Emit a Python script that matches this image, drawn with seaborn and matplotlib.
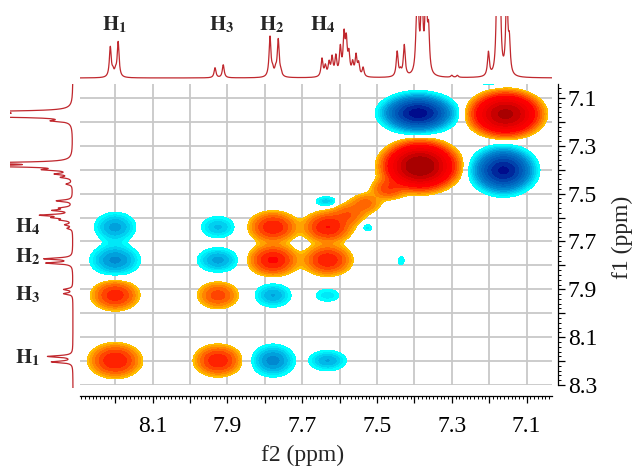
import numpy as np
import matplotlib
matplotlib.use("Agg")
import matplotlib.pyplot as plt
from matplotlib.ticker import MultipleLocator, FuncFormatter
import seaborn as sns

# 1D projection along f2 (top trace): line position (ppm) and height (px)
top_ppm = [8.213, 8.206, 8.199, 8.192,
           7.933, 7.911,
           7.786, 7.779, 7.771, 7.764, 7.757,
           7.647, 7.638, 7.628, 7.620, 7.610, 7.598, 7.588, 7.582, 7.575,
           7.565, 7.556, 7.549, 7.537,
           7.446, 7.437, 7.427,
           7.395, 7.391, 7.380, 7.369, 7.362,
           7.300, 7.285,
           7.202, 7.179, 7.171, 7.153, 7.146]
top_height = [30, 5, 5, 35,
              10, 13,
              40, 6, 6, 37, 4,
              18, 10, 13, 18, 19, 27, 38, 32, 20,
              12, 20, 12, 9,
              25, 5, 31,
              20, 90, 90, 90, 40,
              2, 2,
              24, 90, 90, 90, 30]

# 1D projection along f1 (left trace)
left_ppm = [7.158, 7.170, 7.178, 7.196,
            7.372, 7.385, 7.400, 7.418, 7.432,
            7.460, 7.530, 7.560, 7.570, 7.590, 7.600, 7.610, 7.630, 7.645,
            7.772, 7.790,
            7.900, 7.918,
            8.180, 8.203]
left_height = [90, 90, 80, 16,
               90, 90, 23, 15, 10,
               6, 16, 11, 18, 30, 16, 10, 7, 5,
               28, 26,
               9, 9,
               25, 21]

# 2D peaks: f2 (ppm), f1 (ppm), amplitude, width f2, width f1
pk_f2 = [8.200, 7.925, 7.778, 7.632,
         8.200, 7.925, 7.778, 7.632,
         8.200, 7.925, 7.778, 7.632,
         8.200, 7.925, 7.778, 7.632,
         7.575, 7.530, 7.470,
         7.636, 7.526, 7.435, 7.200,
         7.385, 7.156, 7.390, 7.162]
pk_f1 = [8.198, 8.198, 8.198, 8.198,
         7.925, 7.925, 7.925, 7.925,
         7.778, 7.778, 7.778, 7.778,
         7.640, 7.640, 7.640, 7.640,
         7.585, 7.540, 7.480,
         7.533, 7.642, 7.780, 7.030,
         7.385, 7.168, 7.164, 7.403]
pk_amp = [7.5, 7.0, -6.5, -4.0,
          6.5, 4.5, -4.0, -1.8,
          -6.0, -4.5, 8.0, 7.0,
          -4.5, -3.0, 7.0, 7.5,
          3.2, 3.0, 4.5,
          -2.6, -1.8, -1.3, -2.0,
          60, 45, -50, -45]
pk_sx = [0.037, 0.034, 0.031, 0.030,
         0.0345, 0.032, 0.029, 0.028,
         0.036, 0.032, 0.035, 0.035,
         0.032, 0.030, 0.035, 0.035,
         0.028, 0.026, 0.026,
         0.020, 0.011, 0.011, 0.020,
         0.042, 0.041, 0.041, 0.0355]
pk_sy = [0.038, 0.0355, 0.036, 0.026,
         0.0345, 0.033, 0.030, 0.023,
         0.036, 0.030, 0.035, 0.035,
         0.036, 0.030, 0.035, 0.035,
         0.028, 0.026, 0.026,
         0.015, 0.014, 0.023, 0.015,
         0.043, 0.040, 0.034, 0.041]

pos_colors = ["#ffc000", "#ffa200", "#ff8400", "#ff6600", "#ff4400", "#ff2200",
              "#ff0000", "#fa0000", "#f00000", "#e00000", "#c80000", "#a80000"]
neg_colors = ["#00ffff", "#00e8f8", "#00d0f0", "#00b8e8", "#00a0dc", "#0088d0",
              "#0078c8", "#0068c0", "#0058b8", "#0044ac", "#00289c", "#000c8c"]
trace_color = "#c0272d"

sns.set_style("white")
plt.rcParams["font.family"] = ["Liberation Serif", "DejaVu Serif"]
plt.rcParams["mathtext.fontset"] = "stix"

W, H = 636, 467
fig = plt.figure(figsize=(W / 100, H / 100), dpi=100)


def box(x0, y0, x1, y1):
    return [x0 / W, 1 - y1 / H, (x1 - x0) / W, (y1 - y0) / H]


# ---- 2D spectrum
ax = fig.add_axes(box(80, 84, 552, 385))
g = np.linspace(7.0, 8.35, 700)
X, Y = np.meshgrid(g, g)
Z = np.zeros_like(X)
for x0, y0, a, sx, sy in zip(pk_f2, pk_f1, pk_amp, pk_sx, pk_sy):
    Z += a * np.exp(-0.5 * ((X - x0) / sx) ** 2 - 0.5 * ((Y - y0) / sy) ** 2)

levels = 1.4 ** np.arange(12)
ax.contourf(X, Y, Z, levels=list(levels) + [1e4], colors=pos_colors, zorder=2)
ax.contourf(X, Y, Z, levels=[-1e4] + list(-levels[::-1]), colors=neg_colors[::-1], zorder=2)

ax.set_xlim(8.294, 7.032)
ax.set_ylim(8.30, 7.042)
odd = FuncFormatter(lambda v, p: f"{v:.1f}" if round(v * 10) % 2 == 1 else "")
ax.xaxis.set_major_locator(MultipleLocator(0.1))
ax.xaxis.set_minor_locator(MultipleLocator(0.01))
ax.yaxis.set_major_locator(MultipleLocator(0.1))
ax.yaxis.set_minor_locator(MultipleLocator(0.02))
ax.xaxis.set_major_formatter(odd)
ax.yaxis.set_major_formatter(odd)
ax.yaxis.tick_right()
for s in ["top", "left"]:
    ax.spines[s].set_visible(False)
ax.spines["bottom"].set_position(("outward", 8))
ax.spines["right"].set_position(("outward", 4.3))
for s in ["bottom", "right"]:
    ax.spines[s].set_color("black")
    ax.spines[s].set_linewidth(0.9)
ax.grid(True, which="major", color="#c8c8c8", lw=1.3)
ax.set_axisbelow(True)
ax.tick_params(which="both", bottom=True, right=True, left=False, top=False,
               direction="out", color="black", labelcolor="black")
ax.tick_params(which="major", length=5, width=0.9, labelsize=17)
ax.tick_params(which="minor", length=2.5, width=0.7)
ax.tick_params(axis="x", pad=9)
ax.tick_params(axis="y", pad=2)
ax.set_xlabel("")
ax.set_ylabel("")

fig.text(303 / W, 1 - 455 / H, "f2 (ppm)", ha="center", va="center", fontsize=17)
fig.text(622 / W, 1 - 237 / H, "f1 (ppm)", ha="center", va="center", fontsize=17, rotation=90)

# ---- top projection
axt = fig.add_axes(box(80, 16, 552, 80))
xt = np.linspace(8.294, 7.032, 4000)
yt = np.zeros_like(xt)
for p, h in zip(top_ppm, top_height):
    yt += h / (1 + ((xt - p) / 0.003) ** 2)
sns.lineplot(x=xt, y=yt, ax=axt, color=trace_color, lw=0.9, estimator=None, sort=False)
axt.set_xlim(8.294, 7.032)
axt.set_ylim(-2, 62)
axt.axis("off")

# ---- left projection
axl = fig.add_axes(box(10, 84, 75, 388))
yl = np.linspace(7.042, 8.312, 3000)
xl = np.zeros_like(yl)
for p, h in zip(left_ppm, left_height):
    xl += h / (1 + ((yl - p) / 0.004) ** 2)
sns.lineplot(x=xl, y=yl, ax=axl, color=trace_color, lw=0.9, estimator=None, sort=False, orient="y")
axl.set_xlim(63, -2)
axl.set_ylim(8.312, 7.042)
axl.axis("off")

# ---- proton labels
top_labels = ["1", "3", "2", "4"]
top_lx = [115, 222, 272, 323]
for t, x in zip(top_labels, top_lx):
    fig.text(x / W, 1 - 25 / H, r"$\mathbf{H}_{\mathbf{" + t + "}}$", ha="center", va="center", fontsize=15)
left_labels = ["4", "2", "3", "1"]
left_ly = [227, 257, 295, 358]
for t, y in zip(left_labels, left_ly):
    fig.text(28 / W, 1 - y / H, r"$\mathbf{H}_{\mathbf{" + t + "}}$", ha="center", va="center", fontsize=15)

fig.savefig("out.png", dpi=100)
